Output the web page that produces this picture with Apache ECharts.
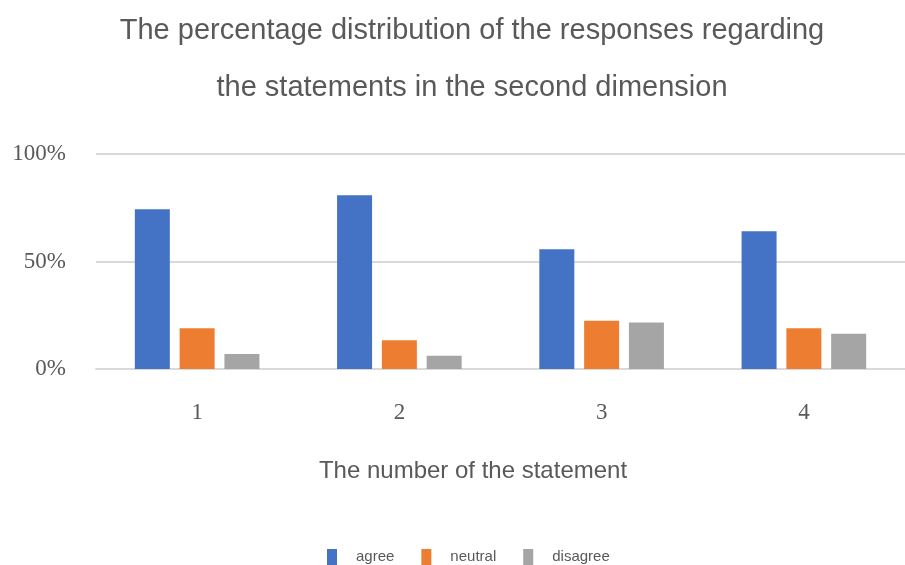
<!DOCTYPE html>
<html>
<head>
<meta charset="utf-8">
<script src="https://cdn.jsdelivr.net/npm/echarts@6/dist/echarts.min.js"></script>
<style>
  html, body { margin: 0; padding: 0; background: #fff; }
  #chart { width: 905px; height: 565px; }
</style>
</head>
<body>
<div id="chart"></div>
<script>
// Statement numbers on the category axis
const statements = ['1', '2', '3', '4'];
// Share of responses (%) per statement
const agree = [74.3, 80.8, 55.7, 64.1];
const neutral = [19.0, 13.4, 22.4, 19.0];
const disagree = [7.0, 6.2, 21.6, 16.4];
// Value-axis ticks
const yTicks = [0, 50, 100];

const chart = echarts.init(document.getElementById('chart'));

const textGrey = '#595959';

chart.setOption({
  animation: false,
  backgroundColor: '#ffffff',
  title: [
    {
      text: 'The percentage distribution of the responses regarding\nthe statements in the second dimension',
      left: 467,
      top: -3,
      textAlign: 'center',
      textStyle: {
        fontFamily: 'Liberation Sans, Arial, sans-serif',
        fontSize: 29,
        fontWeight: 'normal',
        color: textGrey,
        lineHeight: 57
      }
    },
    {
      text: 'The number of the statement',
      left: 468,
      top: 454,
      textAlign: 'center',
      textStyle: {
        fontFamily: 'Liberation Sans, Arial, sans-serif',
        fontSize: 24,
        fontWeight: 'normal',
        color: textGrey
      }
    }
  ],
  legend: {
    data: ['agree', 'neutral', 'disagree'],
    left: 322,
    top: 544,
    itemWidth: 10,
    itemHeight: 16,
    itemGap: 27,
    icon: 'rect',
    textStyle: {
      fontFamily: 'Liberation Sans, Arial, sans-serif',
      fontSize: 15,
      color: textGrey,
      padding: [0, 0, 0, 14]
    }
  },
  grid: {
    left: 96,
    top: 154,
    width: 814,
    bottom: 196,
    containLabel: false
  },
  xAxis: {
    type: 'category',
    data: statements,
    axisLine: { lineStyle: { color: '#d9d9d9', width: 2 } },
    axisTick: { show: false },
    axisLabel: {
      margin: 32,
      fontFamily: 'Liberation Serif, Times New Roman, serif',
      fontSize: 23,
      color: textGrey
    }
  },
  yAxis: {
    type: 'value',
    min: yTicks[0],
    max: yTicks[yTicks.length - 1],
    interval: yTicks[1] - yTicks[0],
    axisLine: { show: false },
    axisTick: { show: false },
    splitLine: { lineStyle: { color: '#d9d9d9', width: 2 } },
    axisLabel: {
      margin: 30,
      formatter: '{value}%',
      fontFamily: 'Liberation Serif, Times New Roman, serif',
      fontSize: 23,
      color: textGrey
    }
  },
  series: [
    { name: 'agree', type: 'bar', data: agree, barWidth: 35, barGap: '28%', itemStyle: { color: '#4472c4' } },
    { name: 'neutral', type: 'bar', data: neutral, barWidth: 35, barGap: '28%', itemStyle: { color: '#ed7d31' } },
    { name: 'disagree', type: 'bar', data: disagree, barWidth: 35, barGap: '28%', itemStyle: { color: '#a5a5a5' } }
  ]
});
</script>
</body>
</html>
